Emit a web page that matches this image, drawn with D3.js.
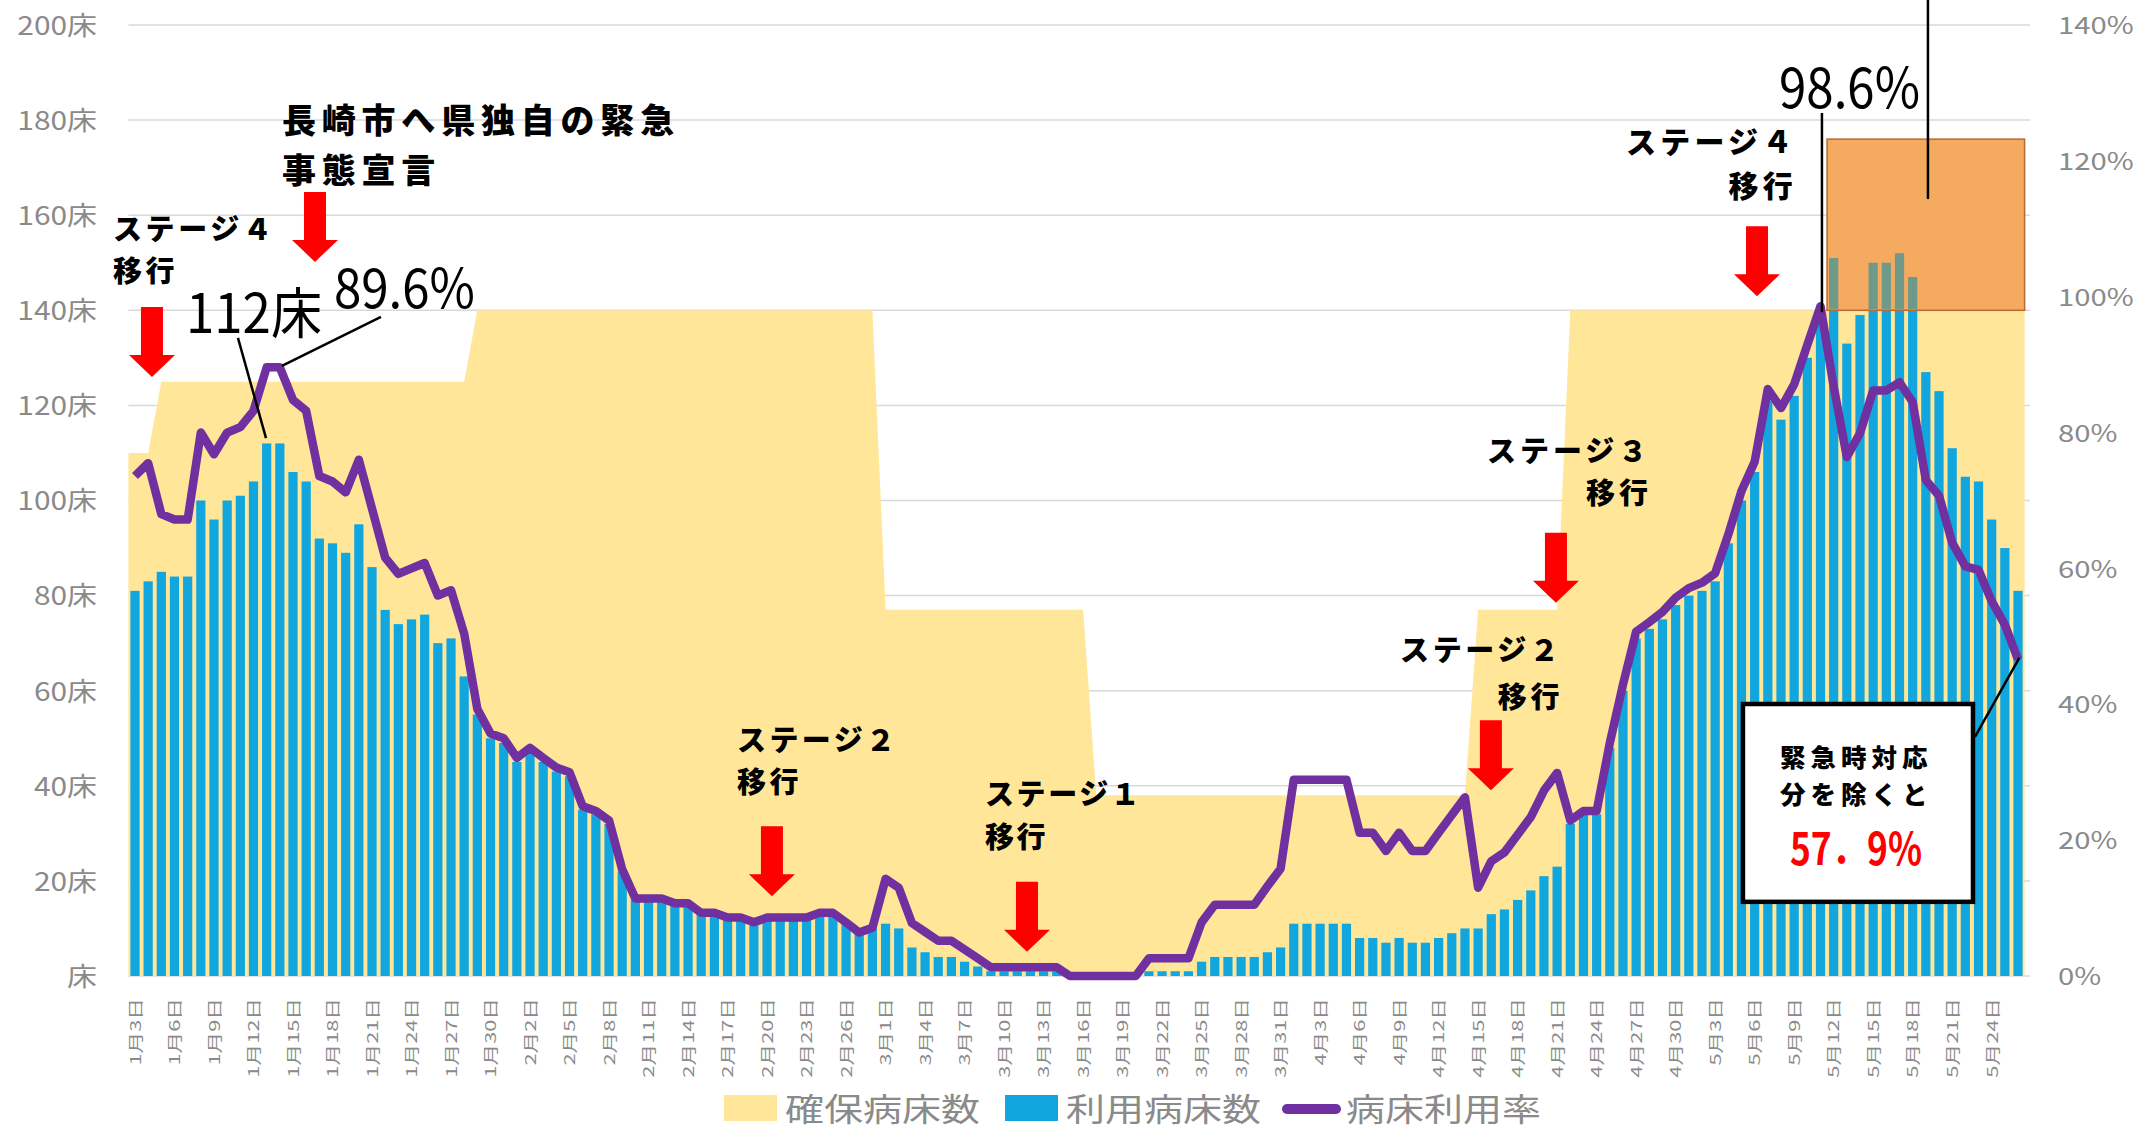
<!DOCTYPE html>
<meta charset="utf-8">
<style>
body { margin: 0; background: #fff; }
text { font-family: "Noto Sans CJK JP", "Noto Sans", sans-serif; }
.grid line { stroke: #d9d9d9; stroke-width: 1.5px; }
.axis text { fill: #8a8a8a; }
.note { font-weight: 900; fill: #000; }
.big { font-weight: 400; fill: #000; }
.lead { stroke: #000; stroke-width: 2.5px; fill: none; }
</style>
<body>
<script src="https://d3js.org/d3.v7.min.js"></script>
<script>

// days shown: 1/3 .. 5/26
var firstDay = new Date(2021, 0, 3),
    lastDay = new Date(2021, 4, 26);

// 利用病床数 (beds in use), one per day
var usedBeds = [
  81, 83, 85, 84, 84, 100, 96, 100, 101, 104, 112, 112, 106, 104, 92, 91, 89, 95, 86, 77,
  74, 75, 76, 70, 71, 63, 55, 50, 49,
  45, 47, 45, 43, 42, 35, 34, 32, 22, 16, 16, 16, 15, 15, 13, 13, 12, 12, 11, 12,
  12, 12, 12, 13, 13, 11, 9, 10,
  11, 10, 6, 5, 4, 4, 3, 2, 1, 1, 1, 1, 1, 1, 0, 0, 0, 0, 0, 0,
  1, 1, 1, 1, 3, 4, 4, 4, 4, 5, 6,
  11, 11, 11, 11, 11, 8, 8, 7, 8, 7, 7, 8, 9, 10, 10, 13, 14, 16, 18, 21,
  23, 32, 34, 34, 48, 60, 71, 73, 75, 78,
  80, 81, 83, 91, 100, 106, 121, 117, 122, 130, 138, 151, 133, 139, 150, 150, 152, 147, 127, 123,
  111, 105, 104, 96, 90, 81
];

// 病床利用率 (%), one per day
var useRate = [
  73.6, 75.5, 68.0, 67.2, 67.2, 80.0, 76.8, 80.0, 80.8, 83.2, 89.6, 89.6, 84.8, 83.2, 73.6, 72.8, 71.2, 76.0, 68.8, 61.6,
  59.2, 60.0, 60.8, 56.0, 56.8, 50.4, 39.3, 35.7, 35.0,
  32.1, 33.6, 32.1, 30.7, 30.0, 25.0, 24.3, 22.9, 15.7, 11.4, 11.4, 11.4, 10.7, 10.7, 9.3, 9.3, 8.6, 8.6, 7.9, 8.6,
  8.6, 8.6, 8.6, 9.3, 9.3, 7.9, 6.4, 7.1,
  14.3, 13.0, 7.8, 6.5, 5.2, 5.2, 3.9, 2.6, 1.3, 1.3, 1.3, 1.3, 1.3, 1.3, 0, 0, 0, 0, 0, 0,
  2.6, 2.6, 2.6, 2.6, 7.9, 10.5, 10.5, 10.5, 10.5, 13.2, 15.8,
  28.9, 28.9, 28.9, 28.9, 28.9, 21.1, 21.1, 18.4, 21.1, 18.4, 18.4, 21.1, 23.7, 26.3, 13.0, 16.9, 18.2, 20.8, 23.4, 27.3,
  29.9, 22.9, 24.3, 24.3, 34.3, 42.9, 50.7, 52.1, 53.6, 55.7,
  57.1, 57.9, 59.3, 65.0, 71.4, 75.7, 86.4, 83.6, 87.1, 92.9, 98.6, 86.8, 76.4, 79.9, 86.2, 86.2, 87.4, 84.5, 73.0, 70.7,
  63.8, 60.3, 59.8, 55.2, 51.7, 46.6
];

// 確保病床数: value valid from that day on
var securedSteps = [
  ["2021-01-03", 110], ["2021-01-05", 125], ["2021-01-29", 140], ["2021-03-01", 77],
  ["2021-03-17", 38], ["2021-04-15", 77], ["2021-04-22", 140]
];

// 緊急時対応分 (extra beds from 5/12)
var emergencyFrom = 129, emergencyBeds = [140, 176];

var bedTicks = [0, 20, 40, 60, 80, 100, 120, 140, 160, 180, 200];
var rateTicks = [0, 20, 40, 60, 80, 100, 120, 140];
var legendNames = ["確保病床数", "利用病床数", "病床利用率"];

// stage notes: lines, day index, bed level of first baseline, line gap (px), font size, letter spacing
var notes = [
  [["長崎市へ県独自の緊急", "事態宣言"], 11.16, 177.2, 50, 34, 5.8],
  [["ステージ４", "移行"], -1.67, 154.8, 42, 29, 3.6],
  [["ステージ２", "移行"], 45.72, 47.3, 42, 29, 3.4],
  [["ステージ１", "移行"], 64.55, 36, 43, 29, 2.6],
  [["ステージ２", "　　　移行"], 96.07, 66.2, 47, 29, 3.6],
  [["ステージ３", "　　　移行"], 102.67, 108, 42, 29, 4.0],
  [["ステージ４", "　　　移行"], 113.23, 173, 44, 30, 4.2]
];
// red arrows: day index, bed level of the top
var arrows = [[1.29, 140.7], [13.67, 164.9], [48.37, 31.5], [67.74, 19.8], [102.97, 53.8], [107.91, 93.2], [123.18, 157.7]];

var W = 2147, H = 1129;
var x0 = 128.4, x1 = 2024.6, yBase = 976, yTop = 25;

var days = d3.timeDay.range(firstDay, d3.timeDay.offset(lastDay, 1));
var parse = d3.timeParse("%Y-%m-%d");
var secured = days.map(function(d) {
  var v = securedSteps[0][1];
  securedSteps.forEach(function(s) { if (parse(s[0]) <= d) v = s[1]; });
  return v;
});

var svg = d3.select("body").append("svg")
    .attr("width", W)
    .attr("height", H);
svg.append("rect").attr("width", W).attr("height", H).attr("fill", "#fff");

var x = d3.scaleBand().domain(d3.range(days.length)).range([x0, x1])
    .paddingInner(0.3).paddingOuter(0.15);
var cx = function(i) { return x(i) + x.bandwidth() / 2; };
var xi = d3.scaleLinear().domain([0, days.length - 1]).range([cx(0), cx(days.length - 1)]);
var y = d3.scaleLinear().domain([0, 200]).range([yBase, yTop]);
var yr = d3.scaleLinear().domain([0, 140]).range([yBase, yTop]);

// gridlines
svg.append("g").attr("class", "grid")
  .selectAll("line").data(bedTicks).enter().append("line")
    .attr("x1", x0).attr("x2", 2030)
    .attr("y1", function(d) { return y(d); })
    .attr("y2", function(d) { return y(d); });

// secured beds area
var areaPts = [[x0, secured[0]]]
  .concat(secured.map(function(v, i) { return [cx(i), v]; }))
  .concat([[x1, secured[secured.length - 1]]]);
svg.append("path")
    .datum(areaPts)
    .attr("fill", "#ffe699")
    .attr("d", d3.area().x(function(d) { return d[0]; }).y0(yBase).y1(function(d) { return y(d[1]); }));

// used beds bars
function drawBars(g, color) {
  g.selectAll("rect").data(usedBeds).enter().append("rect")
    .attr("x", function(d, i) { return x(i); })
    .attr("width", x.bandwidth())
    .attr("y", function(d) { return y(d); })
    .attr("height", function(d) { return yBase - y(d); })
    .attr("fill", color);
}
drawBars(svg.append("g"), "#12a6df");

// emergency beds box
var bx0 = x(emergencyFrom) - x.step() * 0.15, bx1 = x1;
svg.append("rect")
    .attr("x", bx0).attr("y", y(emergencyBeds[1]))
    .attr("width", bx1 - bx0).attr("height", y(emergencyBeds[0]) - y(emergencyBeds[1]))
    .attr("fill", "#f4ab60").attr("stroke", "#b9692e").attr("stroke-width", 1.5);
svg.append("clipPath").attr("id", "boxclip").append("rect")
    .attr("x", bx0).attr("y", y(emergencyBeds[1]))
    .attr("width", bx1 - bx0).attr("height", y(emergencyBeds[0]) - y(emergencyBeds[1]) - 1);
drawBars(svg.append("g").attr("clip-path", "url(#boxclip)"), "#6f9a89");

// rate line
svg.append("path")
    .datum(useRate)
    .attr("fill", "none")
    .attr("stroke", "#7030a0")
    .attr("stroke-width", 8.5)
    .attr("stroke-linejoin", "round")
    .attr("d", d3.line().x(function(d, i) { return cx(i); }).y(function(d) { return yr(d); }));

// left axis
var ax = svg.append("g").attr("class", "axis")
    .attr("transform", "translate(97,0)")
    .call(d3.axisLeft(y).tickValues(bedTicks).tickSize(0).tickPadding(0)
      .tickFormat(function(d) { return d === 0 ? "床" : d + "床"; }));
ax.select(".domain").remove();
ax.selectAll("text").attr("font-size", 26).attr("dy", "0.36em").attr("transform", "scale(1.15,1)");

// right axis
var ar = svg.append("g").attr("class", "axis")
    .attr("transform", "translate(2058,0)")
    .call(d3.axisRight(yr).tickValues(rateTicks).tickSize(0).tickPadding(0)
      .tickFormat(function(d) { return d + "%"; }));
ar.select(".domain").remove();
ar.selectAll("text").attr("font-size", 24).attr("dy", "0.36em").attr("transform", "scale(1.22,1)");

// date labels
var fmt = function(i) { var d = days[i]; return (d.getMonth() + 1) + "月" + d.getDate() + "日"; };
var axb = svg.append("g").attr("class", "axis")
    .attr("transform", "translate(0," + yBase + ")")
    .call(d3.axisBottom(x).tickValues(d3.range(0, days.length, 3)).tickSize(0).tickFormat(fmt));
axb.select(".domain").remove();
axb.selectAll("text")
    .attr("font-size", 15).attr("fill", "#707070")
    .attr("x", 0).attr("y", 0).attr("dy", null)
    .attr("dominant-baseline", "central")
    .attr("text-anchor", "end")
    .attr("transform", "translate(-1,22) rotate(-90) scale(1.45,1)");

// arrows
svg.append("g").selectAll("path").data(arrows).enter().append("path")
    .attr("fill", "#ff0000")
    .attr("d", function(a) {
      var X = xi(a[0]), T = y(a[1]);
      return "M" + (X - 11) + "," + T + "H" + (X + 11) + "V" + (T + 48) + "H" + (X + 23) +
        "L" + X + "," + (T + 70) + "L" + (X - 23) + "," + (T + 48) + "H" + (X - 11) + "Z";
    });

// stage notes, one text per note
var nt = svg.append("g").selectAll("text").data(notes).enter().append("text")
    .attr("class", "note")
    .attr("font-size", function(n) { return n[4]; })
    .attr("letter-spacing", function(n) { return n[5]; });
nt.selectAll("tspan").data(function(n) { return n[0].map(function(s, k) { return [s, k, n]; }); })
  .enter().append("tspan")
    .attr("x", function(t) { return xi(t[2][1]); })
    .attr("y", function(t) { return y(t[2][2]) + t[1] * t[2][3]; })
    .text(function(t) { return t[0]; });

// peak callouts
function bigText(str, d, b, len, fs) {
  svg.append("text").attr("class", "big")
    .attr("x", xi(d)).attr("y", y(b))
    .attr("font-size", fs)
    .attr("textLength", len).attr("lengthAdjust", "spacingAndGlyphs")
    .text(str);
}
function lead(d1, b1, d2, b2) {
  svg.append("line").attr("class", "lead")
    .attr("x1", xi(d1)).attr("y1", y(b1)).attr("x2", xi(d2)).attr("y2", y(b2));
}
bigText("112床", 3.87, 135.2, 136, 55);
bigText("89.6%", 15.11, 140.5, 141, 54);
bigText("98.6%", 124.85, 182.5, 141, 56);
lead(7.82, 134.2, 9.95, 113.1);
lead(18.68, 138.6, 11.16, 128.3);
lead(128.11, 181.5, 128.11, 139.6);
lead(136.16, 206, 136.16, 163.4);

// box: excluding emergency beds
lead(139.73, 50.3, 143.1, 66.9);
svg.append("rect")
    .attr("x", xi(122.11)).attr("y", y(57.2))
    .attr("width", xi(139.58) - xi(122.11)).attr("height", y(15.6) - y(57.2))
    .attr("fill", "#fff").attr("stroke", "#000").attr("stroke-width", 4.5);
var bt = svg.append("text").attr("class", "note").attr("font-size", 25.5).attr("letter-spacing", 5);
bt.append("tspan").attr("x", xi(124.92)).attr("y", y(43.9)).text("緊急時対応");
bt.append("tspan").attr("x", xi(124.92)).attr("y", y(43.9) + 37).text("分を除くと");
svg.append("text").attr("font-weight", 700).attr("fill", "#ff0000")
    .attr("x", xi(125.68)).attr("y", y(23.3)).attr("font-size", 44)
    .attr("textLength", 132).attr("lengthAdjust", "spacingAndGlyphs").text("57．9%");

// legend
var lg = svg.append("g");
lg.append("rect").attr("x", 724).attr("y", 1095).attr("width", 53).attr("height", 26).attr("fill", "#ffe699");
lg.append("rect").attr("x", 1005).attr("y", 1095).attr("width", 53).attr("height", 26).attr("fill", "#12a6df");
lg.append("line").attr("x1", 1287).attr("x2", 1336).attr("y1", 1109).attr("y2", 1109)
    .attr("stroke", "#7030a0").attr("stroke-width", 10).attr("stroke-linecap", "round");
lg.selectAll("text").data(legendNames).enter().append("text")
    .attr("x", function(d, i) { return [785, 1066, 1346][i]; })
    .attr("y", 1121)
    .attr("font-size", 32)
    .attr("fill", "#8a8a8a")
    .attr("textLength", 195).attr("lengthAdjust", "spacingAndGlyphs")
    .text(function(d) { return d; });

</script>
</body>
